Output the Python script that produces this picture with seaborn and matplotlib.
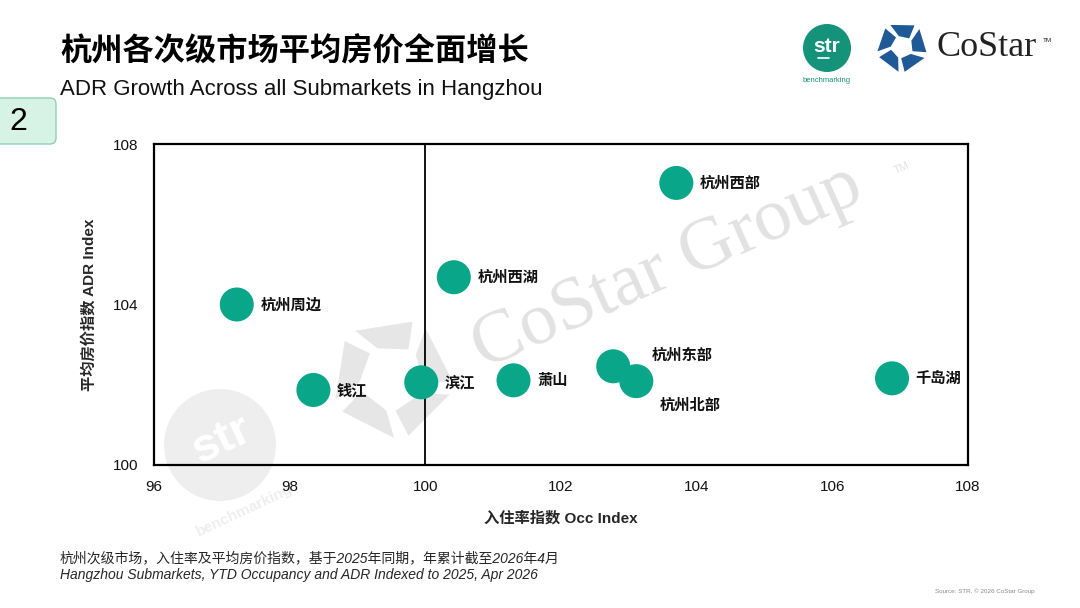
import numpy as np
import pandas as pd
import matplotlib
matplotlib.use("Agg")
import matplotlib.pyplot as plt
import seaborn as sns
from matplotlib.patches import Polygon, Circle, FancyBboxPatch

# data
markets = ["杭州周边", "钱江", "滨江", "萧山", "杭州西湖", "杭州西部", "杭州东部", "杭州北部", "千岛湖"]
occ_index = [97.22, 98.35, 99.94, 101.30, 100.42, 103.70, 102.77, 103.11, 106.88]
adr_index = [104.0, 101.87, 102.06, 102.11, 104.68, 107.03, 102.46, 102.09, 102.16]
x_ticks = [96, 98, 100, 102, 104, 106, 108]
y_ticks = [100, 104, 108]

df = pd.DataFrame({"market": markets, "occ": occ_index, "adr": adr_index})

sns.set_theme(style="white")
plt.rcParams["font.family"] = ["Liberation Sans", "Noto Sans CJK SC", "DejaVu Sans"]
cjk = ["Noto Sans CJK SC", "DejaVu Sans"]

GREEN = "#0aa68a"
fig = plt.figure(figsize=(10.8, 6.08), dpi=100)

# background layer in pixel coords for title, logos, watermark
bg = fig.add_axes([0, 0, 1, 1], zorder=0)
bg.set_xlim(0, 1080)
bg.set_ylim(608, 0)
bg.axis("off")


def star(ax, cx, cy, R, color, rot=0, inner=0.5):
    for k in range(5):
        th = np.deg2rad(90 + 72 * k + rot)
        pts = []
        for ang, rad in [(-30, 1.0), (28, 1.0), (16, inner), (-40, inner)]:
            a = th + np.deg2rad(ang)
            pts.append((cx + rad * R * np.cos(a), cy - rad * R * np.sin(a)))
        ax.add_patch(Polygon(pts, closed=True, color=color, lw=0))


# watermark
star(bg, 392, 378, 60, "#e6e6e6", rot=10, inner=0.55)
bg.add_patch(Circle((220, 445), 56, color="#eeeeee", lw=0))
bg.text(222, 440, "str", color="white", fontsize=34, fontweight="bold", rotation=25,
        ha="center", va="center")
bg.text(245, 510, "benchmarking", color="#eeeeee", fontsize=11, fontweight="bold", rotation=25,
        ha="center", va="center")
bg.text(668, 268, "CoStar Group", color="#e2e2e2", fontsize=54, family="Liberation Serif",
        style="normal", rotation=24, ha="center", va="center")
bg.text(902, 168, "TM", color="#e2e2e2", fontsize=8, rotation=24, ha="center", va="center")

# title block
bg.text(60, 52, "杭州各次级市场平均房价全面增长", family=cjk, fontsize=22.5, fontweight="bold",
        ha="left", va="center", color="black")
bg.text(60, 90, "ADR Growth Across all Submarkets in Hangzhou", fontsize=16,
        ha="left", va="center", color="#111111")
bg.add_patch(FancyBboxPatch((-10, 98), 66, 46, boxstyle="round,pad=0,rounding_size=6",
                            fc="#d6f3e6", ec="#8fd0b4", lw=1))
bg.text(18, 122, "2", fontsize=23, ha="center", va="center", color="black")

# logos
bg.add_patch(Circle((827, 48), 24, color="#14937a", lw=0))
bg.text(827, 46, "str", color="white", fontsize=15, fontweight="bold", ha="center", va="center")
bg.plot([818, 829], [58, 58], color="white", lw=1.2)
bg.text(827, 81, "benchmarking", color="#14937a", fontsize=5.5, ha="center", va="center")
star(bg, 902, 47, 25, "#1f5a96", inner=0.45)
bg.text(937, 48, "CoStar", family="Liberation Serif", fontsize=26, ha="left", va="center",
        color="#222222")
bg.text(1043, 41, "TM", fontsize=4.5, ha="left", va="center", color="#222222")

# footnotes
bg.text(60, 558, "杭州次级市场，入住率及平均房价指数，基于2025年同期，年累计截至2026年4月",
        fontsize=10, style="italic", ha="left", va="center")
bg.text(60, 575, "Hangzhou Submarkets, YTD Occupancy and ADR Indexed to 2025, Apr 2026",
        fontsize=10, style="italic", ha="left", va="center")
bg.text(1035, 591, "Source: STR. © 2026 CoStar Group", fontsize=4.5, color="#888888",
        ha="right", va="center")

# main chart
ax = fig.add_axes([154 / 1080, 1 - 465 / 608, (968 - 154) / 1080, (465 - 144) / 608], zorder=1)
ax.patch.set_alpha(0)
ax.axvline(100, color="black", lw=1.3, zorder=1)
sns.scatterplot(data=df, x="occ", y="adr", ax=ax, s=600, color=GREEN, edgecolor="none",
                zorder=3, legend=False)

offsets = {"杭州东部": (28, 8), "杭州北部": (17, -17)}
for name, xv, yv in zip(markets, occ_index, adr_index):
    dx, dy = offsets.get(name, (17, 0))
    ax.annotate(name, (xv, yv), xytext=(dx, dy), textcoords="offset points",
                family=cjk, fontsize=11, fontweight="bold", ha="left", va="center",
                color="#111111", zorder=4)

ax.set_xlim(96, 108)
ax.set_ylim(100, 108)
ax.set_xticks(x_ticks)
ax.set_yticks(y_ticks)
ax.tick_params(labelsize=11, length=0, pad=11, colors="#111111")
for sp in ax.spines.values():
    sp.set_color("black")
    sp.set_linewidth(1.6)
ax.set_xlabel("入住率指数 Occ Index", fontsize=11, fontweight="bold", labelpad=12)
ax.set_ylabel("平均房价指数 ADR Index", fontsize=11, fontweight="bold", labelpad=12)

fig.savefig("out.png", dpi=100)
